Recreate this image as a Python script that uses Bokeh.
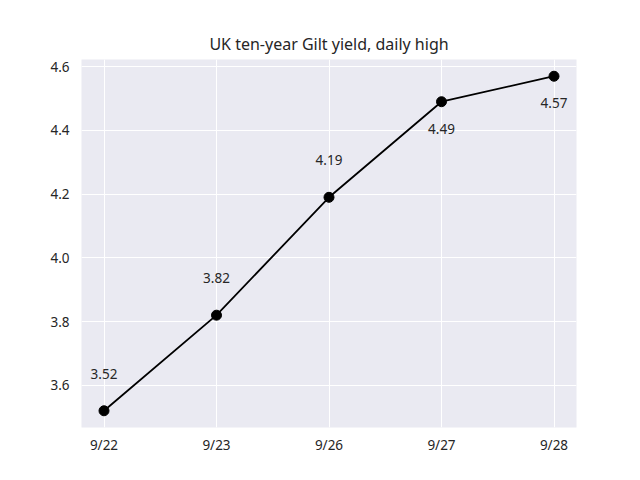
from bokeh.plotting import figure
from bokeh.models import ColumnDataSource, FixedTicker, NumeralTickFormatter, Range1d
from bokeh.core.properties import value
from bokeh.embed import file_html
from bokeh.resources import INLINE

dates = ["9/22", "9/23", "9/26", "9/27", "9/28"]
yields = [3.52, 3.82, 4.19, 4.49, 4.57]
label_side = ["above", "above", "above", "below", "below"]
y_ticks = [3.6, 3.8, 4.0, 4.2, 4.4, 4.6]

FONT = "Noto Sans"
TXT = "#262626"

xs = list(range(len(dates)))
offsets = [-37 if s == "above" else 27 for s in label_side]
src = ColumnDataSource(dict(x=xs, y=yields, lbl=[f"{v:.2f}" for v in yields], off=offsets))

span = max(yields) - min(yields)
p = figure(width=624, height=464, output_backend="svg", toolbar_location=None,
           x_range=Range1d(-0.2, len(dates) - 1 + 0.2),
           y_range=Range1d(min(yields) - 0.05 * span, max(yields) + 0.05 * span),
           min_border_left=81, min_border_right=48, min_border_top=59, min_border_bottom=37,
           title="UK ten-year Gilt yield, daily high")

p.background_fill_color = "#EAEAF2"
p.border_fill_color = "white"
p.outline_line_color = None

p.title.align = "center"
p.title.text_font = FONT
p.title.text_font_size = "16px"
p.title.text_font_style = "normal"
p.title.text_color = TXT

p.line("x", "y", source=src, line_color="black", line_width=1.8)
p.scatter("x", "y", source=src, size=10, fill_color="black", line_color="black")
p.text("x", "y", text="lbl", source=src, y_offset="off", text_align="center",
       text_baseline="middle", text_font=value(FONT), text_font_size="13.5px", text_color=TXT)

p.xaxis.ticker = FixedTicker(ticks=xs)
p.xaxis.major_label_overrides = {i: d for i, d in enumerate(dates)}
p.yaxis.ticker = FixedTicker(ticks=y_ticks)
p.yaxis.formatter = NumeralTickFormatter(format="0.0")

for ax in (p.xaxis, p.yaxis):
    ax.axis_line_color = None
    ax.major_tick_line_color = None
    ax.minor_tick_line_color = None
    ax.major_tick_out = 0
    ax.major_tick_in = 0
    ax.minor_tick_out = 0
    ax.major_label_text_font = FONT
    ax.major_label_text_font_size = "13.5px"
    ax.major_label_text_color = TXT
p.xaxis.major_label_standoff = 8
p.yaxis.major_label_standoff = 12

p.xgrid.grid_line_color = "white"
p.ygrid.grid_line_color = "white"
p.xgrid.grid_line_width = 1
p.ygrid.grid_line_width = 1

open("out.html", "w").write(file_html(p, INLINE))
